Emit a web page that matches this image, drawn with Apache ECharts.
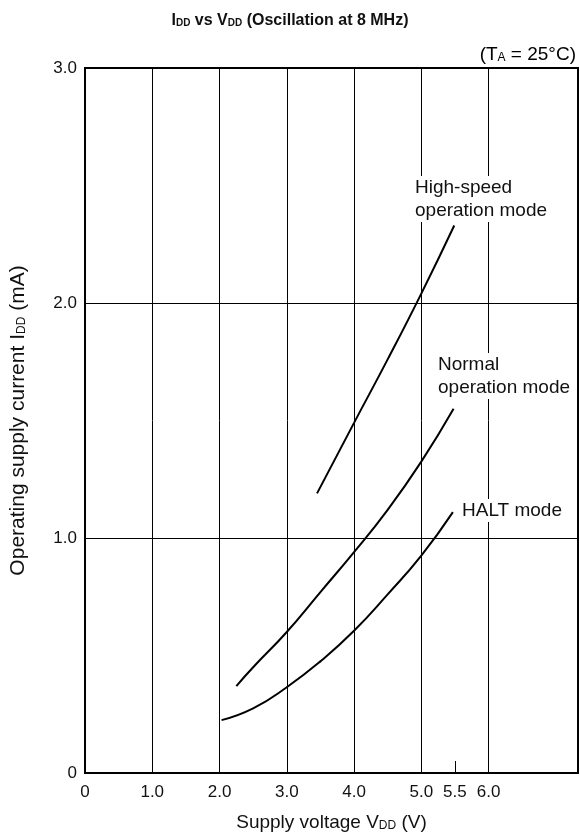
<!DOCTYPE html>
<html>
<head>
<meta charset="utf-8">
<script src="https://cdn.jsdelivr.net/npm/echarts@6/dist/echarts.min.js"></script>
<style>
  html, body { margin: 0; padding: 0; background: #fff; }
  #chart { width: 580px; height: 838px; }
</style>
</head>
<body>
<div id="chart"></div>
<script>
// tick labels
var xTicks = [0, 1, 2, 3, 4, 5, 6]
var xMinorTick = [5.5]
var yTicks = [0, 1, 2, 3]

// curves (V, mA)
var highV = [3.45, 4.0, 4.5, 5.0, 5.49]
var highI = [1.19, 1.49, 1.76, 2.04, 2.33]

var normalV = [2.25, 2.5, 3.0, 3.5, 4.0, 4.5, 5.0, 5.48]
var normalI = [0.37, 0.45, 0.60, 0.77, 0.94, 1.12, 1.325, 1.55]

var haltV = [2.03, 2.5, 3.0, 3.5, 4.0, 4.5, 5.0, 5.47]
var haltI = [0.225, 0.275, 0.365, 0.475, 0.605, 0.76, 0.925, 1.11]

function pairs(xs, ys) {
  return xs.map(function (x, i) { return [x, ys[i]] })
}

function fmt(v) {
  return v === 0 ? '0' : v.toFixed(1)
}

var font = 'Liberation Sans, Arial, sans-serif'
var sub = { fontSize: 12, fontFamily: font, color: '#111', padding: [6, 0, 0, 0] }
var norm = { fontSize: 19, fontFamily: font, color: '#111' }
var subY = { fontSize: 13, fontFamily: font, color: '#111', padding: [0, 0, 0, 6] }
var normY = { fontSize: 21, fontFamily: font, color: '#111' }

var chart = echarts.init(document.getElementById('chart'))

function curve(name, xs, ys) {
  return {
    name: name,
    type: 'line',
    smooth: true,
    showSymbol: false,
    silent: true,
    data: pairs(xs, ys),
    lineStyle: { color: '#000', width: 2 },
    z: 5
  }
}

function note(left, top, lines) {
  return {
    type: 'text',
    left: left,
    top: top,
    z: 10,
    style: {
      text: lines,
      font: '19px ' + font,
      fill: '#111',
      lineHeight: 23,
      backgroundColor: '#fff',
      padding: [0, 2, 0, 2]
    }
  }
}

var option = {
  animation: false,
  textStyle: { fontFamily: font },
  title: {
    text: '{b|I}{s|DD}{b| vs V}{s|DD}{b| (Oscillation at 8 MHz)}',
    left: 'center',
    top: 8,
    textStyle: {
      rich: {
        b: { fontSize: 16, fontWeight: 'bold', fontFamily: font, color: '#111' },
        s: { fontSize: 10, fontWeight: 'bold', fontFamily: font, color: '#111', padding: [5, 0, 0, 0] }
      }
    }
  },
  grid: {
    left: 84, right: 2, top: 68, bottom: 65,
    show: true,
    borderColor: '#000',
    borderWidth: 2,
    backgroundColor: 'transparent'
  },
  xAxis: [{
    type: 'value',
    min: 0,
    max: 7.33,
    name: '{n|Supply voltage V}{s|DD}{n| (V)}',
    nameLocation: 'middle',
    nameGap: 40,
    nameTextStyle: { rich: { n: norm, s: sub } },
    axisLine: { show: true, lineStyle: { color: '#000', width: 2 } },
    axisTick: { show: false, customValues: xTicks },
    splitLine: { show: true, lineStyle: { color: '#000', width: 1 } },
    axisLabel: { fontSize: 17, color: '#111', margin: 11, customValues: xTicks, formatter: fmt }
  }, {
    type: 'value',
    min: 0,
    max: 7.33,
    position: 'bottom',
    axisLine: { show: false },
    splitLine: { show: false },
    axisTick: { show: true, inside: true, length: 12, customValues: xMinorTick, lineStyle: { color: '#000', width: 1 } },
    axisLabel: { fontSize: 17, color: '#111', margin: 11, customValues: xMinorTick, formatter: fmt }
  }],
  yAxis: {
    type: 'value',
    min: 0,
    max: 3,
    interval: 1,
    name: '{n|Operating supply current I}{s|DD}{n| (mA)}',
    nameLocation: 'middle',
    nameGap: 56,
    nameRotate: 90,
    nameTextStyle: { rich: { n: normY, s: sub } },
    axisLine: { show: true, lineStyle: { color: '#000', width: 2 } },
    axisTick: { show: false },
    splitLine: { show: true, lineStyle: { color: '#000', width: 1 } },
    axisLabel: {
      fontSize: 17,
      color: '#111',
      margin: 8,
      formatter: function (v) {
        return yTicks.indexOf(v) < 0 ? '' : fmt(v)
      }
    }
  },
  graphic: [
    {
      type: 'text',
      right: 4,
      top: 45,
      style: {
        text: '{n|(T}{s|A}{n| = 25°C)}',
        rich: { n: norm, s: sub }
      }
    },
    note(413, 176, 'High-speed\noperation mode'),
    note(436, 353, 'Normal\noperation mode'),
    note(460, 499, 'HALT mode')
  ],
  series: [
    curve('High-speed operation mode', highV, highI),
    curve('Normal operation mode', normalV, normalI),
    curve('HALT mode', haltV, haltI)
  ]
}

chart.setOption(option)
</script>
</body>
</html>
